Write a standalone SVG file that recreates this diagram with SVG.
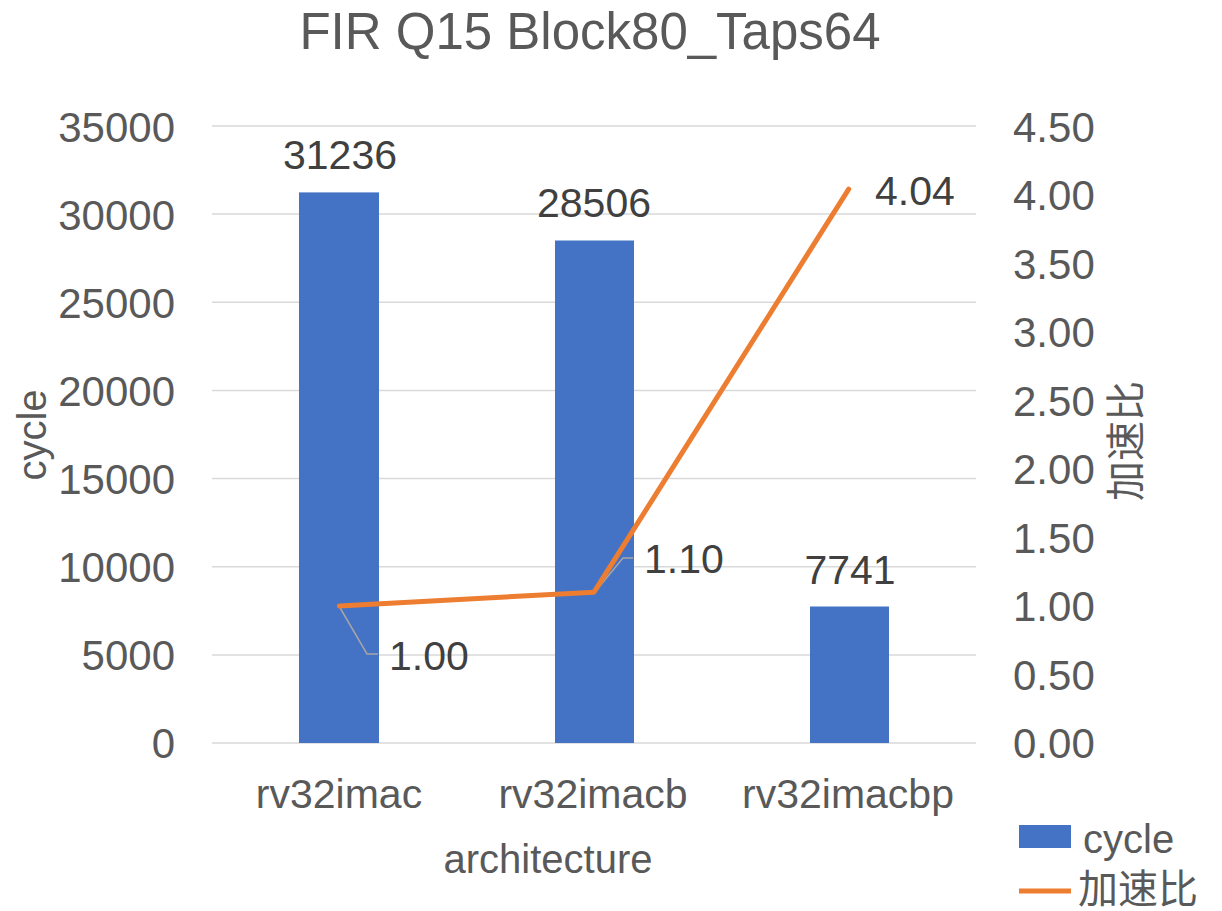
<svg xmlns="http://www.w3.org/2000/svg" width="1222" height="911" viewBox="0 0 1222 911">
  <style>
    text { font-family: "Liberation Sans", Arial, "Noto Sans CJK SC", sans-serif; }
    .title { font-size: 51px; fill: #595959; text-anchor: middle; }
    .tick { font-size: 42px; fill: #595959; }
    .tickL { text-anchor: end; }
    .cat { font-size: 41px; fill: #595959; text-anchor: middle; }
    .axisTitle { font-size: 40px; fill: #595959; text-anchor: middle; }
    .dlabel { font-size: 41px; fill: #404040; }
    .grid { stroke: #D9D9D9; stroke-width: 1.5; }
    .bar { fill: #4472C4; }
    .series { fill: none; stroke: #ED7D31; stroke-width: 5; stroke-linejoin: round; stroke-linecap: round; }
    .leader { fill: none; stroke: #A6A6A6; stroke-width: 1.5; }
    .legend { font-size: 40px; fill: #595959; }
  </style>
  <rect width="1222" height="911" fill="#FFFFFF"/>

  <text class="title" x="590" y="49">FIR Q15 Block80_Taps64</text>

  <!-- horizontal gridlines -->
  <g id="gridlines">
    <line class="grid" x1="212" y1="126" x2="976" y2="126"/>
    <line class="grid" x1="212" y1="214.1" x2="976" y2="214.1"/>
    <line class="grid" x1="212" y1="302.3" x2="976" y2="302.3"/>
    <line class="grid" x1="212" y1="390.4" x2="976" y2="390.4"/>
    <line class="grid" x1="212" y1="478.6" x2="976" y2="478.6"/>
    <line class="grid" x1="212" y1="566.7" x2="976" y2="566.7"/>
    <line class="grid" x1="212" y1="654.9" x2="976" y2="654.9"/>
    <line class="grid" x1="212" y1="743" x2="976" y2="743"/>
  </g>

  <!-- left axis: cycle -->
  <g id="axis-left">
    <text class="tick tickL" x="175" y="142">35000</text>
    <text class="tick tickL" x="175" y="230">30000</text>
    <text class="tick tickL" x="175" y="318">25000</text>
    <text class="tick tickL" x="175" y="406">20000</text>
    <text class="tick tickL" x="175" y="494">15000</text>
    <text class="tick tickL" x="175" y="582">10000</text>
    <text class="tick tickL" x="175" y="670">5000</text>
    <text class="tick tickL" x="175" y="758">0</text>
    <text class="axisTitle" transform="translate(46,435) rotate(-90)">cycle</text>
  </g>

  <!-- right axis: speedup -->
  <g id="axis-right">
    <text class="tick" x="1013" y="142">4.50</text>
    <text class="tick" x="1013" y="210">4.00</text>
    <text class="tick" x="1013" y="279">3.50</text>
    <text class="tick" x="1013" y="347">3.00</text>
    <text class="tick" x="1013" y="416">2.50</text>
    <text class="tick" x="1013" y="484">2.00</text>
    <text class="tick" x="1013" y="553">1.50</text>
    <text class="tick" x="1013" y="621">1.00</text>
    <text class="tick" x="1013" y="690">0.50</text>
    <text class="tick" x="1013" y="758">0.00</text>
    <text class="axisTitle" transform="translate(1140,441) rotate(-90)">加速比</text>
  </g>

  <!-- category axis -->
  <g id="axis-bottom">
    <text class="cat" x="339" y="808">rv32imac</text>
    <text class="cat" x="593" y="808">rv32imacb</text>
    <text class="cat" x="848" y="808">rv32imacbp</text>
    <text class="axisTitle" x="548" y="873">architecture</text>
  </g>

  <!-- cycle bars -->
  <g id="bar-rv32imac">
    <rect class="bar" x="299" y="192.4" width="80" height="550.6"/>
    <text class="dlabel" x="340" y="169" text-anchor="middle">31236</text>
  </g>
  <g id="bar-rv32imacb">
    <rect class="bar" x="555" y="240.5" width="79" height="502.5"/>
    <text class="dlabel" x="594" y="217" text-anchor="middle">28506</text>
  </g>
  <g id="bar-rv32imacbp">
    <rect class="bar" x="810" y="606.5" width="79" height="136.5"/>
    <text class="dlabel" x="850" y="584" text-anchor="middle">7741</text>
  </g>

  <!-- speedup series with label leaders -->
  <g id="connectors">
    <polyline class="leader" points="339,606 367,654 378,654"/>
    <polyline class="leader" points="595,592 623,558 633,558"/>
    <polyline class="series" points="339.3,605.9 594,592.2 848.7,189.1"/>
  </g>
  <g id="speedup-labels">
    <text class="dlabel" x="389" y="670">1.00</text>
    <text class="dlabel" x="644" y="573">1.10</text>
    <text class="dlabel" x="875" y="205">4.04</text>
  </g>

  <!-- legend -->
  <g id="legend">
    <rect class="bar" x="1019" y="825" width="52" height="23"/>
    <text class="legend" x="1083" y="853">cycle</text>
    <line x1="1019" y1="891" x2="1071" y2="891" stroke="#ED7D31" stroke-width="5"/>
    <text class="legend" x="1078" y="903">加速比</text>
  </g>
</svg>
